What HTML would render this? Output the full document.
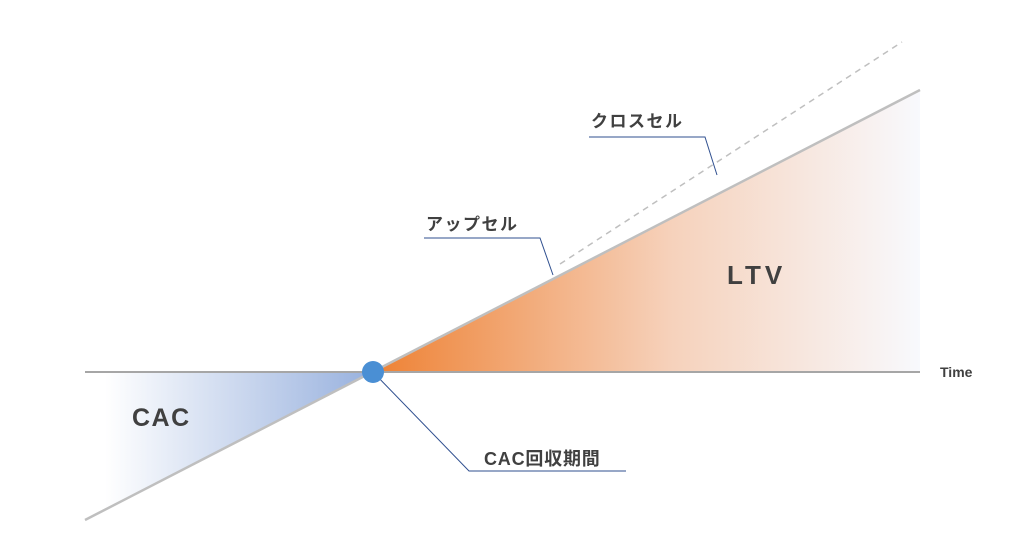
<!DOCTYPE html>
<html><head><meta charset="utf-8"><style>
html,body{margin:0;padding:0;background:#fff;width:1024px;height:556px;overflow:hidden}
text{font-family:"Liberation Sans","Noto Sans CJK JP",sans-serif;font-weight:bold;fill:#404040}
</style></head><body>
<svg width="1024" height="556" viewBox="0 0 1024 556" xmlns="http://www.w3.org/2000/svg">
<defs>
<linearGradient id="og" x1="372" y1="0" x2="920" y2="0" gradientUnits="userSpaceOnUse">
<stop offset="0" stop-color="#ee8133"/><stop offset="0.55" stop-color="#f6d2bc"/><stop offset="1" stop-color="#f8f9fd"/>
</linearGradient>
<linearGradient id="bg" x1="105" y1="0" x2="372" y2="0" gradientUnits="userSpaceOnUse">
<stop offset="0" stop-color="#ffffff"/><stop offset="1" stop-color="#98b1de"/>
</linearGradient>
</defs>
<polygon points="372,372 920,90 920,372" fill="url(#og)"/>
<polygon points="85,372 372,372 85,520" fill="url(#bg)"/>
<line x1="560" y1="264" x2="902" y2="42" stroke="#bfbfbf" stroke-width="1.5" stroke-dasharray="6,5"/>
<line x1="85" y1="372" x2="920" y2="372" stroke="#a6a6a6" stroke-width="2"/>
<line x1="85" y1="520" x2="920" y2="90" stroke="#bfbfbf" stroke-width="2.5"/>
<polyline points="589,137 705,137 717,175" fill="none" stroke="#2f4f8f" stroke-width="1"/>
<polyline points="424,238 540,238 553,275" fill="none" stroke="#2f4f8f" stroke-width="1"/>
<polyline points="373,372 469,471 626,471" fill="none" stroke="#2f4f8f" stroke-width="1"/>
<circle cx="373" cy="372" r="11" fill="#4a8fd4"/>
<text x="591" y="127" font-size="17" letter-spacing="1.5">クロスセル</text>
<text x="426" y="230" font-size="17" letter-spacing="1.5">アップセル</text>
<text x="484" y="465" font-size="18" letter-spacing="0.8">CAC回収期間</text>
<text x="940" y="377" font-size="14">Time</text>
<text x="727" y="284" font-size="26" letter-spacing="4">LTV</text>
<text x="132" y="426" font-size="25" letter-spacing="1.5">CAC</text>
</svg>
</body></html>
